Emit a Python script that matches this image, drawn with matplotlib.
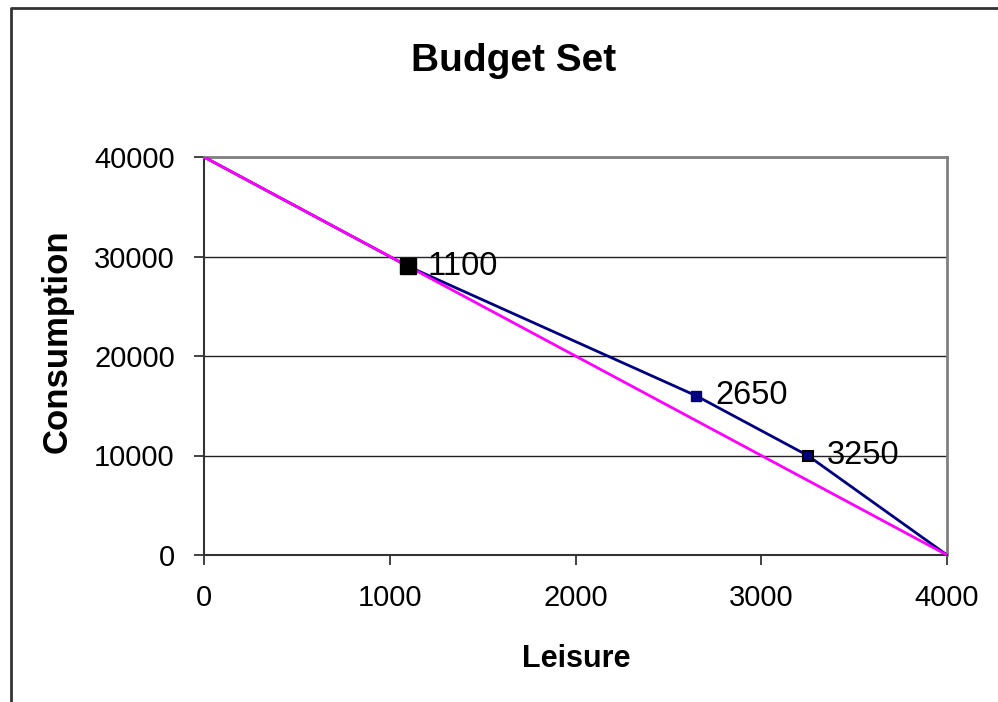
import matplotlib
matplotlib.use("Agg")
import matplotlib.pyplot as plt
from matplotlib.lines import Line2D

plt.rcParams['font.family'] = ['Liberation Sans', 'DejaVu Sans']

# Data
leisure_kinked = [0, 1100, 2650, 3250, 4000]
consumption_kinked = [40000, 29000, 16000, 10000, 0]
leisure_linear = [0, 4000]
consumption_linear = [40000, 0]
label_points_x = [1100, 2650, 3250]
label_points_y = [29000, 16000, 10000]
label_texts = ["1100", "2650", "3250"]
x_ticks = [0, 1000, 2000, 3000, 4000]
y_ticks = [0, 10000, 20000, 30000, 40000]

W, H = 998, 702
fig = plt.figure(figsize=(W / 100, H / 100), dpi=100)
fig.patch.set_facecolor('white')

L, R, T, B = 204, 947, 157, 555
ax = fig.add_axes([L / W, 1 - B / H, (R - L) / W, (B - T) / H])

ax.plot(leisure_kinked, consumption_kinked, color='#000080', lw=2, zorder=3)
ax.plot(leisure_linear, consumption_linear, color='#FF00FF', lw=2, zorder=4)

# markers
ax.plot(label_points_x[0], label_points_y[0], marker='s', ms=11.5, color='black',
        mec='black', zorder=5, clip_on=False)
ax.plot(label_points_x[1], label_points_y[1], marker='s', ms=7.2, color='#000080',
        mec='#000080', zorder=5, clip_on=False)
ax.plot(label_points_x[2], label_points_y[2], marker='s', ms=7.2, color='#000080',
        mec='black', mew=1.5, zorder=5, clip_on=False)

for x, y, t in zip(label_points_x, label_points_y, label_texts):
    ax.annotate(t, (x, y), xytext=(14, 0), textcoords='offset points',
                fontsize=23.5, va='center', ha='left', zorder=6)

ax.set_xlim(0, 4000)
ax.set_ylim(0, 40000)
ax.set_xticks(x_ticks)
ax.set_yticks(y_ticks)
ax.set_xticklabels([str(v) for v in x_ticks])
ax.set_yticklabels([str(v) for v in y_ticks])
ax.tick_params(axis='both', direction='out', length=7, width=1.2, color='#222222',
               labelsize=21)
ax.tick_params(axis='x', pad=14)
ax.tick_params(axis='y', pad=14)
ax.yaxis.grid(True, color='#222222', lw=1)
ax.set_axisbelow(True)

for s in ['top', 'right']:
    ax.spines[s].set_color('#808080')
    ax.spines[s].set_linewidth(2)
for s in ['left', 'bottom']:
    ax.spines[s].set_color('#333333')
    ax.spines[s].set_linewidth(1.5)

fig.text(514 / W, 1 - 71 / H, "Budget Set", fontsize=28, fontweight='bold',
         ha='center', va='baseline')
fig.text(576 / W, 1 - 667 / H, "Leisure", fontsize=22, fontweight='bold',
         ha='center', va='baseline')
fig.text(57 / W, 1 - 341 / H, "Consumption", fontsize=25, fontweight='bold',
         ha='center', va='center', rotation=90)

# chart area border (left and top visible)
fig.add_artist(Line2D([11 / W, 11 / W, 1.0], [0.0, 1 - 8 / H, 1 - 8 / H],
                      transform=fig.transFigure, color='#333333', lw=2))

fig.savefig('out.png', dpi=100)
